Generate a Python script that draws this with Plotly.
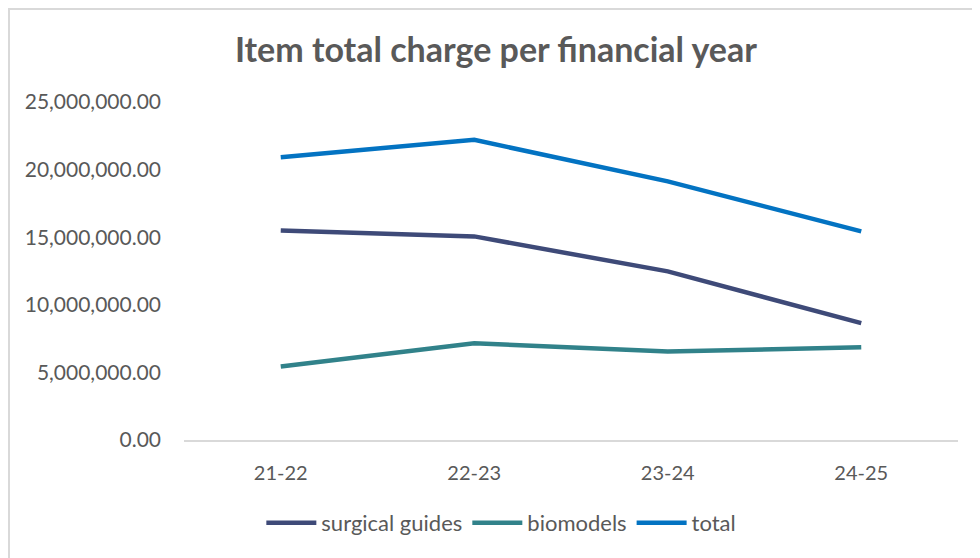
import plotly.graph_objects as go

years = ["21-22", "22-23", "23-24", "24-25"]
surgical_guides = [15500000, 15060000, 12470000, 8640000]
biomodels = [5430000, 7160000, 6540000, 6860000]
total = [20910000, 22200000, 19130000, 15430000]

series = [
    ("surgical guides", surgical_guides, "#3E4A78"),
    ("biomodels", biomodels, "#31828A"),
    ("total", total, "#0373C2"),
]

fig = go.Figure()
for name, vals, color in series:
    fig.add_trace(go.Scatter(
        x=years, y=vals, name=name, mode="lines",
        line=dict(color=color, width=4.5),
    ))

W, H = 972, 550
L, R, T, B = 176, 22, 94, 118
PW, PH = W - L - R, H - T - B

font_family = "Lato, 'Open Sans', sans-serif"
fig.update_layout(
    width=W, height=H,
    margin=dict(l=L, r=R, t=T, b=B),
    paper_bgcolor="white", plot_bgcolor="white",
    title=dict(text="<b>Item total charge per financial year</b>",
               x=0.502, xanchor="center", y=1 - 42 / H, yanchor="middle",
               font=dict(family=font_family, size=34, color="#595959")),
    font=dict(family=font_family, size=21, color="#595959"),
    showlegend=True,
    legend=dict(orientation="h", x=0.41, xanchor="center", y=-0.2456, yanchor="middle",
                font=dict(size=22, color="#595959"), itemwidth=50,
                tracegroupgap=0),
    xaxis=dict(range=[-0.5, 3.5], showgrid=False, showline=True, linecolor="#D9D9D9", linewidth=2,
               ticks="", ticklabelstandoff=14, tickfont=dict(size=20, color="#595959")),
    yaxis=dict(range=[0, 25000000], dtick=5000000, tickformat=",.2f",
               showgrid=False, zeroline=False, showline=False,
               ticks="", ticklabelstandoff=22, tickfont=dict(size=21, color="#595959")),
    shapes=[dict(type="line", xref="paper", yref="paper",
                 x0=-L / PW + 1 / PW, x1=-L / PW + 1 / PW,
                 y0=-B / PH, y1=1 + T / PH,
                 line=dict(color="#D9D9D9", width=2), layer="below"),
            dict(type="line", xref="paper", yref="paper",
                 x0=-L / PW, x1=1 + R / PW,
                 y0=1 + T / PH - 1 / PH, y1=1 + T / PH - 1 / PH,
                 line=dict(color="#D9D9D9", width=2), layer="below")],
)

fig.write_html("out.html")
